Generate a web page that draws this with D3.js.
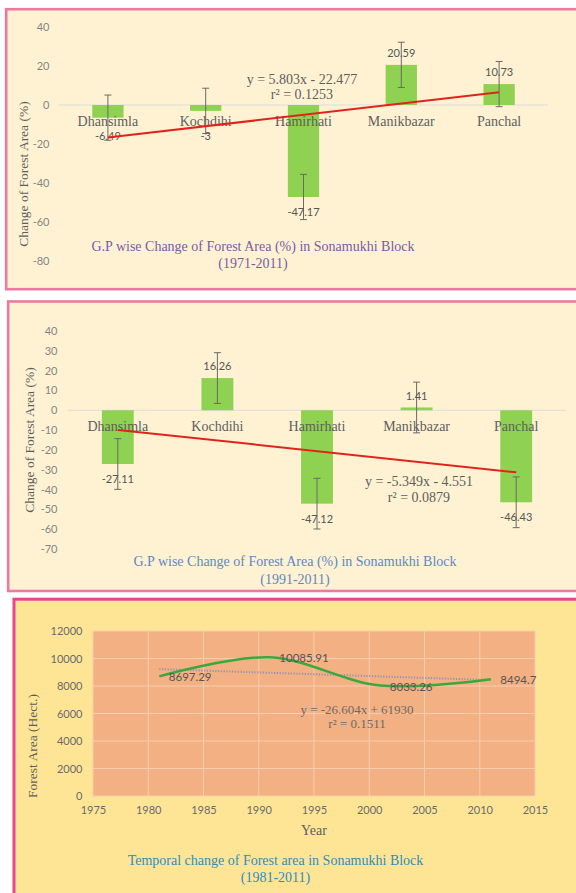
<!DOCTYPE html>
<html>
<head>
<meta charset="utf-8">
<script src="https://cdn.jsdelivr.net/npm/d3@7"></script>
<style>
  html, body { margin: 0; padding: 0; background: #ffffff; }
  svg { display: block; }
</style>
</head>
<body>
<script>
// Gram Panchayats of Sonamukhi Block
const categories = ["Dhansimla", "Kochdihi", "Hamirhati", "Manikbazar", "Panchal"];

// Change of forest area (%), 1971-2011
const change7111 = [-6.49, -3, -47.17, 20.59, 10.73];
const errorBar7111 = 11.6;
const trend7111 = { slope: 5.803, intercept: -22.477, r2: "0.1253" };
const ticks7111 = [40, 20, 0, -20, -40, -60, -80];

// Change of forest area (%), 1991-2011
const change9111 = [-27.11, 16.26, -47.12, 1.41, -46.43];
const errorBar9111 = 12.8;
const trend9111 = { slope: -5.349, intercept: -4.551, r2: "0.0879" };
const ticks9111 = [40, 30, 20, 10, 0, -10, -20, -30, -40, -50, -60, -70];

// Forest area (hectares) by census year
const years = [1981, 1991, 2001, 2011];
const forestArea = [8697.29, 10085.91, 8033.26, 8494.7];
const areaLabels = ["8697.29", "10085.91", "8033.26", "8494.7"];
const trendArea = { slope: -26.604, intercept: 61930, r2: "0.1511" };
const yearTicks = [1975, 1980, 1985, 1990, 1995, 2000, 2005, 2010, 2015];
const areaTicks = [0, 2000, 4000, 6000, 8000, 10000, 12000];

const SERIF = "'Liberation Serif', 'Times New Roman', serif";
const SANS = "Lato, 'Open Sans', sans-serif";
const plain = d => String(d);

const svg = d3.select("body").append("svg")
  .attr("width", 576).attr("height", 893);

// ---------- panel frames ----------
svg.append("rect").attr("x", 6.2).attr("y", 9.2).attr("width", 590).attr("height", 280)
  .attr("fill", "#fef2d3").attr("stroke", "#ec7aa0").attr("stroke-width", 2.6);
svg.append("rect").attr("x", 8.2).attr("y", 301.5).attr("width", 590).attr("height", 289.5)
  .attr("fill", "#fef2d3").attr("stroke", "#ec7aa0").attr("stroke-width", 2.6);
svg.append("rect").attr("x", 14).attr("y", 599.2).attr("width", 590).attr("height", 320)
  .attr("fill", "#fee596").attr("stroke", "#e9458f").attr("stroke-width", 3);

// ---------- bar chart with error bars and linear trend ----------
function barPanel(opt) {
  const g = svg.append("g");
  const x = d3.scaleBand().domain(categories).range(opt.xRange).paddingInner(0.68).paddingOuter(0.34);
  const y = d3.scaleLinear().domain(opt.yDomain).range(opt.yRange);
  const data = categories.map((c, i) => ({ c, v: opt.values[i], i }));

  // value axis labels
  const axis = d3.axisLeft(y).tickValues(opt.ticks).tickSize(0).tickPadding(0).tickFormat(plain);
  const ag = g.append("g").attr("transform", `translate(${opt.tickX},0)`).call(axis);
  ag.select(".domain").remove();
  ag.selectAll("text").attr("font-family", SANS).attr("font-size", 11).attr("fill", "#858585");

  // zero line
  g.append("line")
    .attr("x1", opt.xRange[0]).attr("x2", opt.xRange[1])
    .attr("y1", y(0)).attr("y2", y(0))
    .attr("stroke", "#dcdcdc").attr("stroke-width", 1);

  // bars
  g.selectAll(".bar").data(data).enter().append("rect")
    .attr("x", d => x(d.c)).attr("width", x.bandwidth())
    .attr("y", d => Math.min(y(d.v), y(0)))
    .attr("height", d => Math.abs(y(d.v) - y(0)))
    .attr("fill", "#8fd150");

  // category names
  g.selectAll(".cat").data(data).enter().append("text")
    .attr("x", d => x(d.c) + x.bandwidth() / 2).attr("y", opt.catY)
    .attr("dy", "0.35em").attr("text-anchor", "middle")
    .attr("font-family", SERIF).attr("font-size", 14).attr("fill", "#5e5e5e")
    .text(d => d.c);

  // error bars
  const eb = g.selectAll(".err").data(data).enter().append("g")
    .attr("stroke", "#6a6a6a").attr("stroke-width", 1);
  eb.append("line")
    .attr("x1", d => x(d.c) + x.bandwidth() / 2).attr("x2", d => x(d.c) + x.bandwidth() / 2)
    .attr("y1", d => y(d.v + opt.err)).attr("y2", d => y(d.v - opt.err));
  [1, -1].forEach(s => {
    eb.append("line")
      .attr("x1", d => x(d.c) + x.bandwidth() / 2 - 3.5).attr("x2", d => x(d.c) + x.bandwidth() / 2 + 3.5)
      .attr("y1", d => y(d.v + s * opt.err)).attr("y2", d => y(d.v + s * opt.err));
  });

  // value labels (negative ones kept clear of the category names)
  g.selectAll(".val").data(data).enter().append("text")
    .attr("x", d => x(d.c) + x.bandwidth() / 2)
    .attr("y", d => d.v >= 0 ? y(d.v) - 11.5 : Math.max(y(d.v) + 15, y(0) + 31.5))
    .attr("dy", "0.35em").attr("text-anchor", "middle")
    .attr("font-family", SANS).attr("font-size", 11).attr("fill", "#555555")
    .text(d => d.v);

  // linear trend line over category index 1..5
  const t = opt.trend;
  const first = data[0], last = data[data.length - 1];
  g.append("line")
    .attr("x1", x(first.c) + x.bandwidth() / 2).attr("y1", y(t.slope * 1 + t.intercept))
    .attr("x2", x(last.c) + x.bandwidth() / 2).attr("y2", y(t.slope * data.length + t.intercept))
    .attr("stroke", "#e3231b").attr("stroke-width", 2);

  // trend equation
  const fmt = v => (v < 0 ? "- " : "+ ") + Math.abs(v);
  const eq = g.append("g").attr("font-family", SERIF).attr("font-size", 14)
    .attr("fill", "#5e5e5e").attr("text-anchor", "middle");
  eq.append("text").attr("x", opt.eqX).attr("y", opt.eqY).attr("dy", "0.35em")
    .text(`y = ${t.slope}x ${fmt(t.intercept)}`);
  eq.append("text").attr("x", opt.eqX).attr("y", opt.eqY + 15.5).attr("dy", "0.35em")
    .text(`r² = ${t.r2}`);

  // axis title
  g.append("text")
    .attr("transform", `translate(${opt.titleX},${opt.titleY}) rotate(-90)`)
    .attr("dy", "0.35em").attr("text-anchor", "middle")
    .attr("font-family", SERIF).attr("font-size", 13.5).attr("fill", "#5e5e5e")
    .text("Change of Forest Area (%)");

  // caption
  const cap = g.append("g").attr("font-family", SERIF).attr("font-size", 14)
    .attr("fill", opt.capColor).attr("text-anchor", "middle");
  cap.append("text").attr("x", opt.capX).attr("y", opt.capY).attr("dy", "0.35em")
    .text("G.P wise Change of Forest Area (%) in Sonamukhi Block");
  cap.append("text").attr("x", opt.capX).attr("y", opt.capY + 17.5).attr("dy", "0.35em")
    .text(opt.period);
}

barPanel({
  values: change7111, err: errorBar7111, trend: trend7111, ticks: ticks7111,
  xRange: [59, 548], yDomain: [40, -80], yRange: [27, 261], tickX: 49.5,
  catY: 121, eqX: 302, eqY: 79,
  titleX: 23, titleY: 174,
  capX: 253, capY: 246, capColor: "#7a5aa8", period: "(1971-2011)"
});

barPanel({
  values: change9111, err: errorBar9111, trend: trend9111, ticks: ticks9111,
  xRange: [68, 566], yDomain: [40, -70], yRange: [331, 549], tickX: 57.5,
  catY: 426, eqX: 419, eqY: 481.5,
  titleX: 29, titleY: 440,
  capX: 295, capY: 561.5, capColor: "#5f87c2", period: "(1991-2011)"
});

// ---------- temporal line chart ----------
(function () {
  const g = svg.append("g");
  const x = d3.scaleLinear().domain([1975, 2015]).range([93, 535]);
  const y = d3.scaleLinear().domain([0, 12000]).range([796, 631]);

  g.append("rect").attr("x", x(1975)).attr("y", y(12000))
    .attr("width", x(2015) - x(1975)).attr("height", y(0) - y(12000))
    .attr("fill", "#f3b083");

  // grid
  g.selectAll(".hg").data(areaTicks).enter().append("line")
    .attr("x1", x(1975)).attr("x2", x(2015)).attr("y1", d => y(d)).attr("y2", d => y(d))
    .attr("stroke", "#f7cdb0").attr("stroke-width", 1);
  g.selectAll(".vg").data(yearTicks).enter().append("line")
    .attr("x1", d => x(d)).attr("x2", d => x(d)).attr("y1", y(0)).attr("y2", y(12000))
    .attr("stroke", "#f7cdb0").attr("stroke-width", 1);

  // axes labels
  const ya = g.append("g").attr("transform", "translate(82.5,0)")
    .call(d3.axisLeft(y).tickValues(areaTicks).tickSize(0).tickPadding(0).tickFormat(d3.format("d")));
  ya.select(".domain").remove();
  ya.selectAll("text").attr("font-family", SANS).attr("font-size", 11).attr("fill", "#6a6a6a");

  const xa = g.append("g").attr("transform", `translate(0,${y(0)})`)
    .call(d3.axisBottom(x).tickValues(yearTicks).tickSize(0).tickPadding(10).tickFormat(d3.format("d")));
  xa.select(".domain").remove();
  xa.selectAll("text").attr("font-family", SANS).attr("font-size", 11).attr("fill", "#6a6a6a");

  // linear trend (dotted)
  g.append("line")
    .attr("x1", x(years[0])).attr("y1", y(trendArea.slope * years[0] + trendArea.intercept))
    .attr("x2", x(years[years.length - 1])).attr("y2", y(trendArea.slope * years[years.length - 1] + trendArea.intercept))
    .attr("stroke", "#8f92b8").attr("stroke-width", 2).attr("stroke-dasharray", "1.2,1.6");

  // smoothed series
  const pts = years.map((yr, i) => [x(yr), y(forestArea[i])]);
  g.append("path")
    .attr("d", d3.line().curve(d3.curveCatmullRom.alpha(0))(pts))
    .attr("fill", "none").attr("stroke", "#3aa83d").attr("stroke-width", 2.5);

  // point labels
  g.selectAll(".lbl").data(years).enter().append("text")
    .attr("x", (d) => x(d) + 9.5).attr("y", (d, i) => y(forestArea[i]) + 1)
    .attr("dy", "0.35em")
    .attr("font-family", SANS).attr("font-size", 11.5).attr("fill", "#555555")
    .text((d, i) => areaLabels[i]);

  // equation
  const eq = g.append("g").attr("font-family", SERIF).attr("font-size", 13)
    .attr("fill", "#6a6a6a").attr("text-anchor", "middle");
  eq.append("text").attr("x", 357).attr("y", 709).attr("dy", "0.35em")
    .text(`y = ${trendArea.slope}x + ${trendArea.intercept}`);
  eq.append("text").attr("x", 357).attr("y", 723.5).attr("dy", "0.35em")
    .text(`r² = ${trendArea.r2}`);

  // axis titles
  g.append("text").attr("x", (x(1975) + x(2015)) / 2).attr("y", 830).attr("dy", "0.35em")
    .attr("text-anchor", "middle").attr("font-family", SERIF).attr("font-size", 14)
    .attr("fill", "#5e5e5e").text("Year");
  g.append("text")
    .attr("transform", "translate(32,746) rotate(-90)")
    .attr("dy", "0.35em").attr("text-anchor", "middle")
    .attr("font-family", SERIF).attr("font-size", 13.5).attr("fill", "#5e5e5e")
    .text("Forest Area (Hect.)");

  // caption
  const cap = g.append("g").attr("font-family", SERIF).attr("font-size", 14)
    .attr("fill", "#2f8dbd").attr("text-anchor", "middle");
  cap.append("text").attr("x", 275.5).attr("y", 860).attr("dy", "0.35em")
    .text("Temporal change of Forest area in Sonamukhi Block");
  cap.append("text").attr("x", 275.5).attr("y", 877).attr("dy", "0.35em")
    .text("(1981-2011)");
})();
</script>
</body>
</html>
